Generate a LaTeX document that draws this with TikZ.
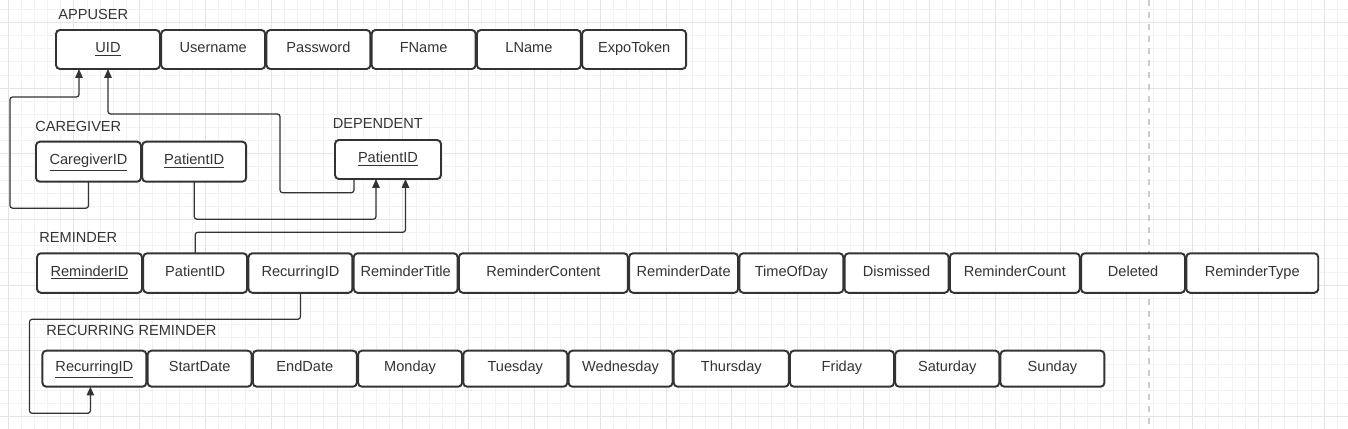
\documentclass[tikz,border=0pt]{standalone}
\usepackage{fontspec}
\setmainfont{Liberation Sans}
\usetikzlibrary{positioning,arrows.meta}

\tikzset{
  attr/.style={draw=black!80, line width=1.1pt, rounded corners=2.2pt, fill=white,
    inner sep=0pt, outer sep=0pt, minimum width=2.08cm, minimum height=0.79cm, text=black!80,
    font=\fontsize{8.3}{10}\selectfont, text height=1.55ex, text depth=0.9ex},
  tblname/.style={inner sep=0pt, text=black!80, font=\fontsize{8.3}{10}\selectfont},
  fk/.style={draw=black!80, line width=0.7pt, rounded corners=1.5pt,
    -{Triangle[length=5pt,width=4.2pt]}},
  gridminor/.style={draw=gray!10, line width=0.4pt},
  gridmajor/.style={draw=gray!20, line width=0.5pt},
  pagebreak/.style={draw=gray!40, line width=1pt, dash pattern=on 3.4pt off 3.4pt}
}

\begin{document}
\begin{tikzpicture}[x=0.02cm, y=-0.02cm, node distance=0.025cm]

\useasboundingbox (0,0) rectangle (1348,429);

% background grid
\begin{scope}
\clip (0,0) rectangle (1348,429);
\foreach \k in {-1,...,102} \draw[gridminor] ({8+13.16*\k},0) -- ({8+13.16*\k},429);
\foreach \k in {-2,...,32} \draw[gridminor] (0,{22.3+13.14*\k}) -- (1348,{22.3+13.14*\k});
\foreach \k in {0,...,20} \draw[gridmajor] ({8+65.8*\k},0) -- ({8+65.8*\k},429);
\foreach \k in {0,...,6} \draw[gridmajor] (0,{22.3+65.7*\k}) -- (1348,{22.3+65.7*\k});
\draw[pagebreak] (1149,0) -- (1149,429);
\end{scope}

% APPUSER
\node[attr, anchor=north west, minimum height=0.78cm] (uid) at (56,30) {\underline{UID}};
\node[attr, minimum height=0.78cm, right=of uid] (uname) {Username};
\node[attr, minimum height=0.78cm, right=of uname] (pwd) {Password};
\node[attr, minimum height=0.78cm, right=of pwd] (fname) {FName};
\node[attr, minimum height=0.78cm, right=of fname] (lname) {LName};
\node[attr, minimum height=0.78cm, right=of lname] (expo) {ExpoToken};
\node[tblname, above right=0.2cm and 0.04cm of uid.north west] {APPUSER};

% CAREGIVER
\node[attr, anchor=north west, minimum width=2.1cm, minimum height=0.8cm] (cgid) at (36,141.7) {\underline{CaregiverID}};
\node[attr, minimum height=0.8cm, right=of cgid] (cgpid) {\underline{PatientID}};
\node[tblname, above right=0.2cm and -0.02cm of cgid.north west] {CAREGIVER};

% DEPENDENT
\node[attr, anchor=north west, minimum width=2.12cm, minimum height=0.78cm] (dep) at (335,140) {\underline{PatientID}};
\node[tblname, above right=0.22cm and -0.05cm of dep.north west] {DEPENDENT};

% REMINDER
\node[attr, anchor=north west, minimum width=2.1cm] (remid) at (37,253.3) {\underline{ReminderID}};
\node[attr, right=of remid] (rpid) {PatientID};
\node[attr, right=of rpid] (rrid) {RecurringID};
\node[attr, right=of rrid] (rtitle) {ReminderTitle};
\node[attr, minimum width=3.38cm, right=of rtitle] (rcontent) {ReminderContent};
\node[attr, minimum width=2.18cm, right=of rcontent] (rdate) {ReminderDate};
\node[attr, right=of rdate] (rtime) {TimeOfDay};
\node[attr, right=of rtime] (rdism) {Dismissed};
\node[attr, minimum width=2.6cm, right=of rdism] (rcount) {ReminderCount};
\node[attr, right=of rcount] (rdel) {Deleted};
\node[attr, minimum width=2.64cm, right=of rdel] (rtype) {ReminderType};
\node[tblname, above right=0.2cm and 0.04cm of remid.north west] {REMINDER};

% RECURRING REMINDER
\node[attr, anchor=north west, minimum height=0.72cm] (recid) at (42.4,350.7) {\underline{RecurringID}};
\node[attr, minimum height=0.72cm, right=of recid] (start) {StartDate};
\node[attr, minimum height=0.72cm, right=of start] (end) {EndDate};
\node[attr, minimum height=0.72cm, right=of end] (mon) {Monday};
\node[attr, minimum height=0.72cm, right=of mon] (tue) {Tuesday};
\node[attr, minimum height=0.72cm, right=of tue] (wed) {Wednesday};
\node[attr, minimum height=0.72cm, minimum width=2.3cm, right=of wed] (thu) {Thursday};
\node[attr, minimum height=0.72cm, right=of thu] (fri) {Friday};
\node[attr, minimum height=0.72cm, right=of fri] (sat) {Saturday};
\node[attr, minimum height=0.72cm, right=of sat] (sun) {Sunday};
\node[tblname, above right=0.3cm and 0.07cm of recid.north west] {RECURRING REMINDER};

% foreign keys
\draw[fk] (cgid.south) -- ++(0,26.5) -| (10,97) -| ([xshift=-0.58cm]uid.south);
\draw[fk] ([xshift=-0.68cm]dep.south) |- (280,192.7) -- (280,114) -| (uid.south);
\draw[fk] (cgpid.south) -- ++(0,37.5) -| ([xshift=-0.24cm]dep.south);
\draw[fk] (rpid.north) -- ++(0,-21) -| ([xshift=0.35cm]dep.south);
\draw[fk] (rrid.south) -- ++(0,26.5) -| (29.5,413.3) -| ([xshift=-0.08cm]recid.south);

\end{tikzpicture}
\end{document}
